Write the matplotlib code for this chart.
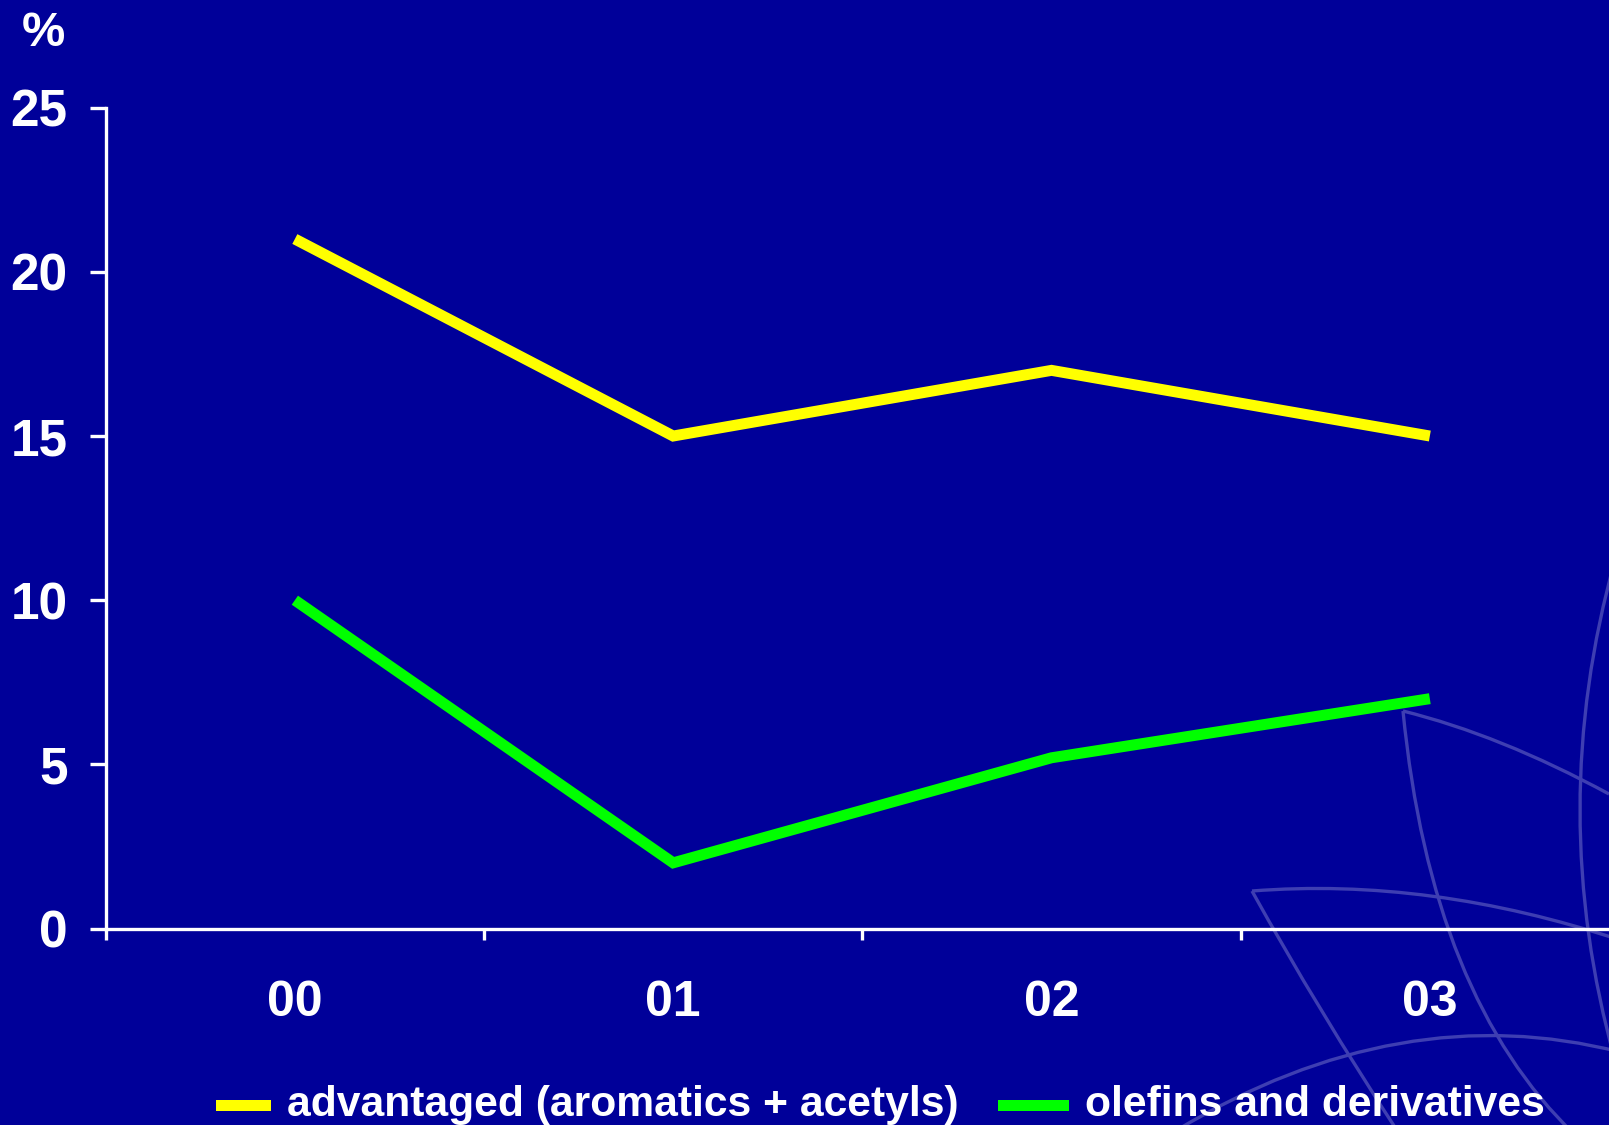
import matplotlib
matplotlib.use("Agg")
import matplotlib.pyplot as plt
from matplotlib import font_manager
from matplotlib.path import Path
from matplotlib.patches import PathPatch, Rectangle

# ---- data ----
years = ["00", "01", "02", "03"]
advantaged = [21.0, 15.0, 17.0, 15.0]
olefins = [10.0, 2.0, 5.2, 7.0]
series_names = ["advantaged (aromatics + acetyls)", "olefins and derivatives"]
series_colors = ["#ffff00", "#00ff00"]
y_ticks = [0, 5, 10, 15, 20, 25]

BG = "#000099"
W, H = 1609, 1125
DPI = 100

base_font = "Liberation Sans"
try:
    font_manager.findfont("Liberation Sans Narrow", fallback_to_default=False)
    narrow_font = "Liberation Sans Narrow"
except Exception:
    narrow_font = None

fig = plt.figure(figsize=(W / DPI, H / DPI), dpi=DPI, facecolor=BG)

# faint leaf-shaped watermark arcs in the lower right corner (pixel coords, y down)
arcs = [
    [(1403, 711), (1500, 735), (1609, 794)],
    [(1403, 711), (1431, 997), (1575, 1135)],
    [(1252, 891), (1430, 877), (1620, 940)],
    [(1252, 891), (1318, 1010), (1400, 1135)],
    [(1615, 560), (1545, 810), (1615, 1060)],
    [(1177, 1130), (1400, 996), (1620, 1052)],
]
for p0, c, p2 in arcs:
    verts = [(x / W, 1 - y / H) for x, y in (p0, c, p2)]
    path = Path(verts, [Path.MOVETO, Path.CURVE3, Path.CURVE3])
    fig.add_artist(PathPatch(path, facecolor="none", edgecolor="#3e3eb2",
                             lw=2.4, transform=fig.transFigure, zorder=0))

# axes: category axis 0..4 with points at bin centres
left, right = 105.7, 1619.0
bottom, top = 928.5, 107.7
ax = fig.add_axes([left / W, 1 - bottom / H, (right - left) / W, (bottom - top) / H])
ax.set_facecolor("none")
ax.set_xlim(0, 4)
ax.set_ylim(0, 25)

xc = [i + 0.5 for i in range(len(years))]
for vals, col in zip([advantaged, olefins], series_colors):
    ax.plot(xc, vals, color=col, lw=7.9, solid_capstyle="butt",
            solid_joinstyle="miter", clip_on=False, zorder=3)

for s in ["top", "right"]:
    ax.spines[s].set_visible(False)
for s in ["left", "bottom"]:
    ax.spines[s].set_color("white")
    ax.spines[s].set_linewidth(2.4)

ax.set_yticks(y_ticks)
ax.set_yticklabels([str(t) for t in y_ticks])
ax.tick_params(axis="y", direction="out", length=11.5, width=2.4, color="white",
               labelcolor="white", pad=16, labelsize=37)
for lab in ax.get_yticklabels():
    lab.set_fontfamily(base_font)
    lab.set_fontweight("bold")

ax.set_xticks(range(0, 5))
ax.set_xticklabels([])
ax.set_xticks(xc, minor=True)
ax.set_xticklabels(years, minor=True)
ax.tick_params(axis="x", which="major", direction="out", length=8, width=2.4, color="white")
ax.tick_params(axis="x", which="minor", length=0, labelcolor="white", pad=37, labelsize=36)
for lab in ax.get_xticklabels(minor=True):
    lab.set_fontfamily(base_font)
    lab.set_fontweight("bold")

# unit label
fig.text(43 / W, 1 - 33 / H, "%", color="white", fontsize=35, fontweight="bold",
         family=base_font, ha="center", va="center")

# legend row
legend_font = narrow_font or base_font
legend_size = 32 if narrow_font else 30.7
handles = [(216, 271), (998, 1069)]
text_x = [287, 1085]
ly = 1105
for (hx0, hx1), tx, name, col in zip(handles, text_x, series_names, series_colors):
    fig.add_artist(Rectangle((hx0 / W, 1 - (ly + 5.5) / H), (hx1 - hx0) / W, 11 / H,
                             transform=fig.transFigure, facecolor=col, edgecolor="none"))
    fig.text(tx / W, 1 - ly / H, name, color="white", fontsize=legend_size,
             fontweight="bold", family=legend_font, ha="left", va="center")

fig.savefig("out.png", dpi=DPI, facecolor=BG)
